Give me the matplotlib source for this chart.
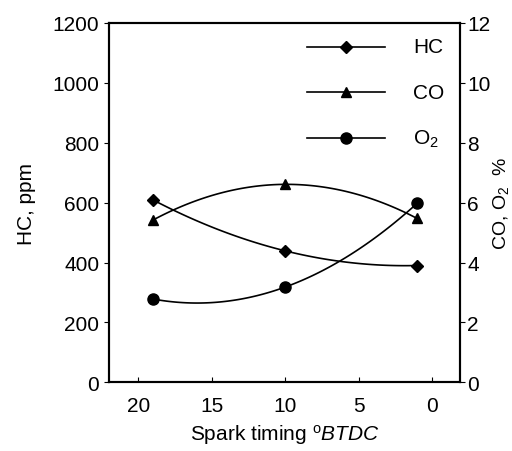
import matplotlib
matplotlib.use('Agg')
import matplotlib.pyplot as plt
import numpy as np

plt.rcParams['font.family'] = ['Liberation Sans', 'DejaVu Sans']
plt.rcParams['mathtext.fontset'] = 'custom'
plt.rcParams['mathtext.rm'] = 'Liberation Sans'
plt.rcParams['mathtext.it'] = 'Liberation Sans:italic'

##########Data
timing = [19, 10, 1]
hc = [609, 439, 390]       # ppm, left axis
co = [5.42, 6.61, 5.47]    # %, right axis
o2 = [2.78, 3.18, 5.98]    # %, right axis

#####
def smooth(x, y):
    # quadratic through the three measured points
    c = np.polyfit(x, y, 2)
    xs = np.linspace(min(x), max(x), 100)
    return xs, np.polyval(c, xs)

fig = plt.figure(figsize=(5.12, 4.52), dpi=100)
ax = fig.add_axes([0.213, 0.152, 0.685, 0.795])
ax2 = ax.twinx()

xs, ys = smooth(timing, hc)
ax.plot(xs, ys, color='black', lw=1.2)
ax.plot(timing, hc, 'D', color='black', ms=6)

xs, ys = smooth(timing, co)
ax2.plot(xs, ys, color='black', lw=1.2)
ax2.plot(timing, co, '^', color='black', ms=7)

xs, ys = smooth(timing, o2)
ax2.plot(xs, ys, color='black', lw=1.2)
ax2.plot(timing, o2, 'o', color='black', ms=8)

#####legend (drawn by hand, no frame)
ax.set_xlim(22, -1.9)
ax.set_ylim(0, 1200)
ax2.set_ylim(0, 12)
leg_x = [8.5, 3.2]
for y, mk, ms, lab in [(1120, 'D', 6, 'HC'), (968, '^', 7, 'CO'), (815, 'o', 8, 'O$_2$')]:
    ax.plot(leg_x, [y, y], color='black', lw=1.2)
    ax.plot([np.mean(leg_x)], [y], mk, color='black', ms=ms)
    ax.text(1.3, y, lab, fontsize=15, va='center', ha='left')

ax.set_xticks([20, 15, 10, 5, 0])
ax.set_yticks(range(0, 1201, 200))
ax2.set_yticks(range(0, 13, 2))
ax.tick_params(axis='x', direction='in', labelsize=15, pad=10)
ax.tick_params(axis='y', direction='out', labelsize=15)
ax2.tick_params(axis='y', direction='out', labelsize=15, pad=2)

ax.set_xlabel(r'Spark timing $^{\rm o}$$\it{BTDC}$', fontsize=15, labelpad=5)
ax.set_ylabel('HC, ppm', fontsize=15, labelpad=12)
ax2.set_ylabel('CO, O$_2$  %', fontsize=14, labelpad=0)

for a in (ax, ax2):
    for s in a.spines.values():
        s.set_linewidth(1.5)

plt.savefig('out.png', dpi=100)
